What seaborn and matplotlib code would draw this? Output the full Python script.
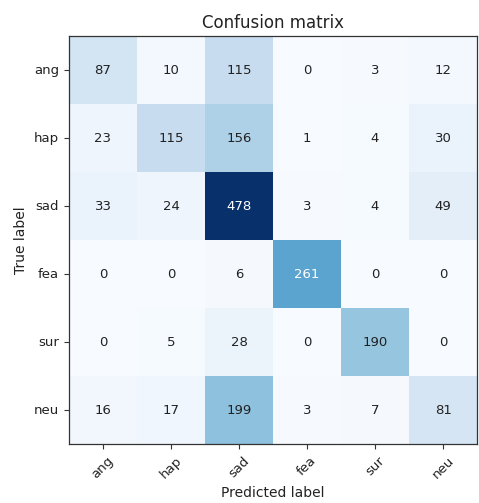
import numpy as np
import pandas as pd
import matplotlib
matplotlib.use("Agg")
import matplotlib.pyplot as plt
import seaborn as sns

classes = ["ang", "hap", "sad", "fea", "sur", "neu"]
row_ang = [87, 10, 115, 0, 3, 12]
row_hap = [23, 115, 156, 1, 4, 30]
row_sad = [33, 24, 478, 3, 4, 49]
row_fea = [0, 0, 6, 261, 0, 0]
row_sur = [0, 5, 28, 0, 190, 0]
row_neu = [16, 17, 199, 3, 7, 81]

cm = pd.DataFrame([row_ang, row_hap, row_sad, row_fea, row_sur, row_neu],
                  index=classes, columns=classes)

fig = plt.figure(figsize=(4.79, 5.03), dpi=100)
ax = fig.add_axes([0.144, 0.117, 0.852, 0.811])

sns.heatmap(cm, cmap="Blues", cbar=False, annot=False, ax=ax, square=False)

thresh = cm.values.max() / 2.0
for i in range(cm.shape[0]):
    for j in range(cm.shape[1]):
        v = cm.values[i, j]
        ax.text(j + 0.5, i + 0.5, str(v), ha="center", va="center",
                fontsize=9.5, color="white" if v > thresh else "#222222")

for s in ax.spines.values():
    s.set_visible(True)
    s.set_color("#333333")
    s.set_linewidth(0.9)

ax.tick_params(axis="both", length=3.5, width=0.8, labelsize=9.5, color="#333333",
               labelcolor="#222222")
ax.set_xticklabels(classes, rotation=45, ha="center")
ax.set_yticklabels(classes, rotation=0)
ax.set_title("Confusion matrix", fontsize=12, color="#222222")
ax.set_xlabel("Predicted label", fontsize=10, color="#222222")
ax.set_ylabel("True label", fontsize=10, color="#222222")

fig.savefig("out.png", dpi=100)
